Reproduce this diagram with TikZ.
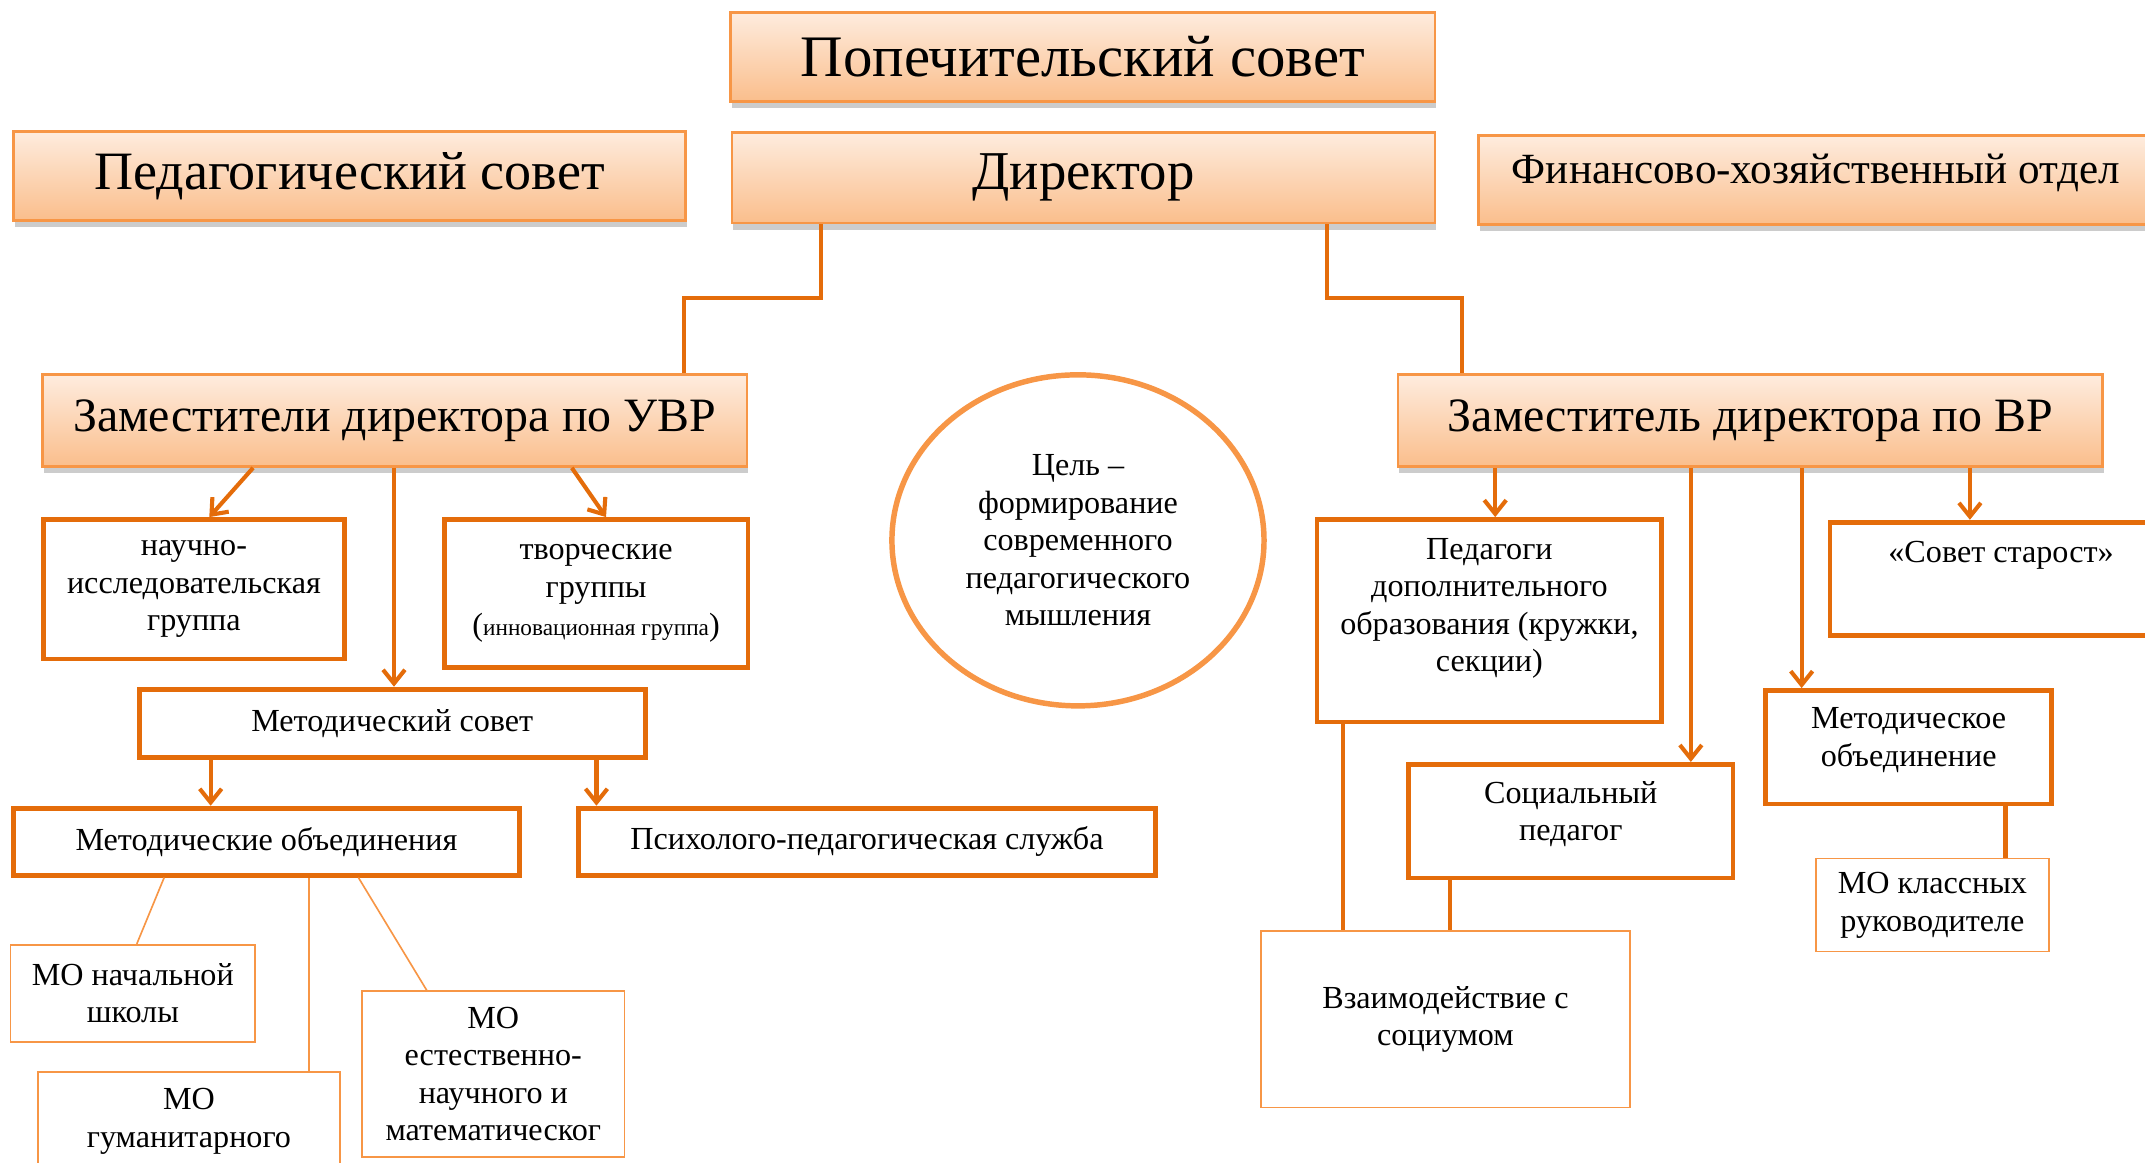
\documentclass[tikz,border=0pt]{standalone}
\usepackage{fontspec}
\setmainfont{Liberation Serif}
\usetikzlibrary{arrows.meta}
\usetikzlibrary{calc,shadows,shapes.geometric}

\definecolor{linkor}{RGB}{228,108,10}
\definecolor{boxor}{RGB}{247,150,70}
\definecolor{peachtop}{RGB}{254,236,222}
\definecolor{peachbot}{RGB}{250,190,140}

\begin{document}
\begin{tikzpicture}[x=1pt, y=-1pt, >={Straight Barb[length=10pt,width=16pt]},
    font=\fontsize{23.5}{27.5}\selectfont,
    head/.style={draw=boxor, line width=2pt, top color=peachtop, bottom color=peachbot,
        anchor=north west, inner sep=0pt,
        drop shadow={shadow xshift=1pt, shadow yshift=-5pt, fill=black!20, opacity=1}},
    unit/.style={draw=linkor, line width=3.5pt, align=center, anchor=north west, inner sep=0pt},
    sub/.style={draw=boxor, line width=1.2pt, align=center, anchor=north west, inner sep=0pt},
    link/.style={draw=linkor, line width=3pt},
    twig/.style={draw=boxor, line width=1.2pt},
    lift/.style={text depth=#1}]

    \useasboundingbox (0,0) rectangle (1568,850);

    \node[head, minimum width=515pt, minimum height=65pt, font=\fontsize{43}{50}\selectfont] (popech) at (533,8) {Попечительский совет};
    \node[head, minimum width=491pt, minimum height=65pt, font=\fontsize{39.5}{46}\selectfont] (pedsov) at (9,95) {Педагогический совет};
    \node[head, minimum width=514pt, minimum height=66pt, font=\fontsize{40}{48}\selectfont] (dir) at (534,96) {Директор};
    \node[head, minimum width=520pt, minimum height=65pt, font=\fontsize{31.5}{38}\selectfont, lift=17pt] (fin) at (1080,98) {Финансово-хозяйственный отдел\kern27pt};

    \node[head, minimum width=515pt, minimum height=67pt, font=\fontsize{35}{42}\selectfont] (zuvr) at (30,273) {Заместители директора по УВР};
    \node[head, minimum width=515pt, minimum height=67pt, font=\fontsize{35}{42}\selectfont] (zvr) at (1021,273) {Заместитель директора по ВР};

    \node[draw=boxor, line width=4pt, ellipse, minimum width=272pt, minimum height=242pt, align=center, inner sep=0pt] (goal) at (788,395) {Цель –\\формирование\\современного\\педагогического\\мышления};

    \node[unit, minimum width=220pt, minimum height=102pt] (nig) at (30,378) {научно-\\исследовательская\\группа};
    \node[unit, minimum width=222pt, minimum height=108pt] (tvor) at (323,378) {творческие\\группы\\({\fontsize{17}{20}\selectfont инновационная группа})};
    \node[unit, minimum width=370pt, minimum height=50pt] (msov) at (100,502) {Методический совет};
    \node[unit, minimum width=370pt, minimum height=49pt] (mobj) at (8,589) {Методические объединения};
    \node[unit, minimum width=422pt, minimum height=49pt] (psy) at (421,589) {Психолого-педагогическая служба};

    \node[sub, minimum width=179pt, minimum height=71pt] (monach) at (7,690) {МО начальной\\школы};
    \node[sub, minimum width=221pt, minimum height=72pt] (mogum) at (27,783) {МО\\гуманитарного};
    \node[sub, minimum width=192pt, minimum height=121pt] (moest) at (264,724) {МО\\естественно-\\научного и\\математическог};

    \node[unit, minimum width=252pt, minimum height=148pt, lift=23pt] (pdo) at (961,378) {Педагоги\\дополнительного\\образования (кружки,\\секции)};
    \node[unit, minimum width=250pt, minimum height=83pt, lift=39pt] (star) at (1336,380) {«Совет старост»};
    \node[unit, minimum width=237pt, minimum height=83pt, lift=15pt] (soc) at (1028,557) {Социальный\\педагог};
    \node[unit, minimum width=209pt, minimum height=83pt, lift=15pt] (mo) at (1289,503) {Методическое\\объединение};
    \node[sub, minimum width=270pt, minimum height=129pt] (vz) at (921,680) {Взаимодействие с\\социумом};
    \node[sub, minimum width=170pt, minimum height=68pt] (mokl) at (1327,627) {МО классных\\руководителе};

    \draw[link] ($(dir.south west)+(66,0)$) |- ($(zuvr.north west)+(470,-55)$) -- ($(zuvr.north west)+(470,0)$);
    \draw[link] ($(dir.south west)+(436,0)$) |- ($(zvr.north west)+(48,-55)$) -- ($(zvr.north west)+(48,0)$);

    \draw[link, ->] ($(zuvr.south west)+(155,0)$) -- ($(nig.north west)+(123,0)$);
    \draw[link, ->] ($(zuvr.south west)+(258,0)$) -- ($(msov.north west)+(188,0)$);
    \draw[link, ->] ($(zuvr.south west)+(388,0)$) -- ($(tvor.north west)+(120,0)$);
    \draw[link, ->] ($(msov.south west)+(54,0)$) -- ($(mobj.north west)+(146,0)$);
    \draw[link, ->] ($(msov.south west)+(336,0)$) -- ($(psy.north west)+(15,0)$);

    \draw[twig] ($(mobj.south west)+(112,0)$) -- ($(monach.north west)+(93,0)$);
    \draw[twig] ($(mobj.south west)+(218,0)$) -- ($(mogum.north west)+(199,0)$);
    \draw[twig] ($(mobj.south west)+(254,0)$) -- ($(moest.north west)+(48,0)$);

    \draw[link, ->] ($(zvr.south west)+(72,0)$) -- ($(pdo.north west)+(132,0)$);
    \draw[link, ->] ($(zvr.south west)+(215,0)$) -- ($(soc.north west)+(208,0)$);
    \draw[link, ->] ($(zvr.south west)+(296,0)$) -- ($(mo.north west)+(28,0)$);
    \draw[link, ->] ($(zvr.south west)+(419,0)$) -- ($(star.north west)+(104,0)$);

    \draw[link] ($(pdo.south west)+(21,0)$) -- ($(vz.north west)+(61,0)$);
    \draw[link] ($(soc.south west)+(32,0)$) -- ($(vz.north west)+(139,0)$);
    \draw[link] ($(mo.south west)+(177,0)$) -- ($(mokl.north west)+(139,0)$);

\end{tikzpicture}
\end{document}
